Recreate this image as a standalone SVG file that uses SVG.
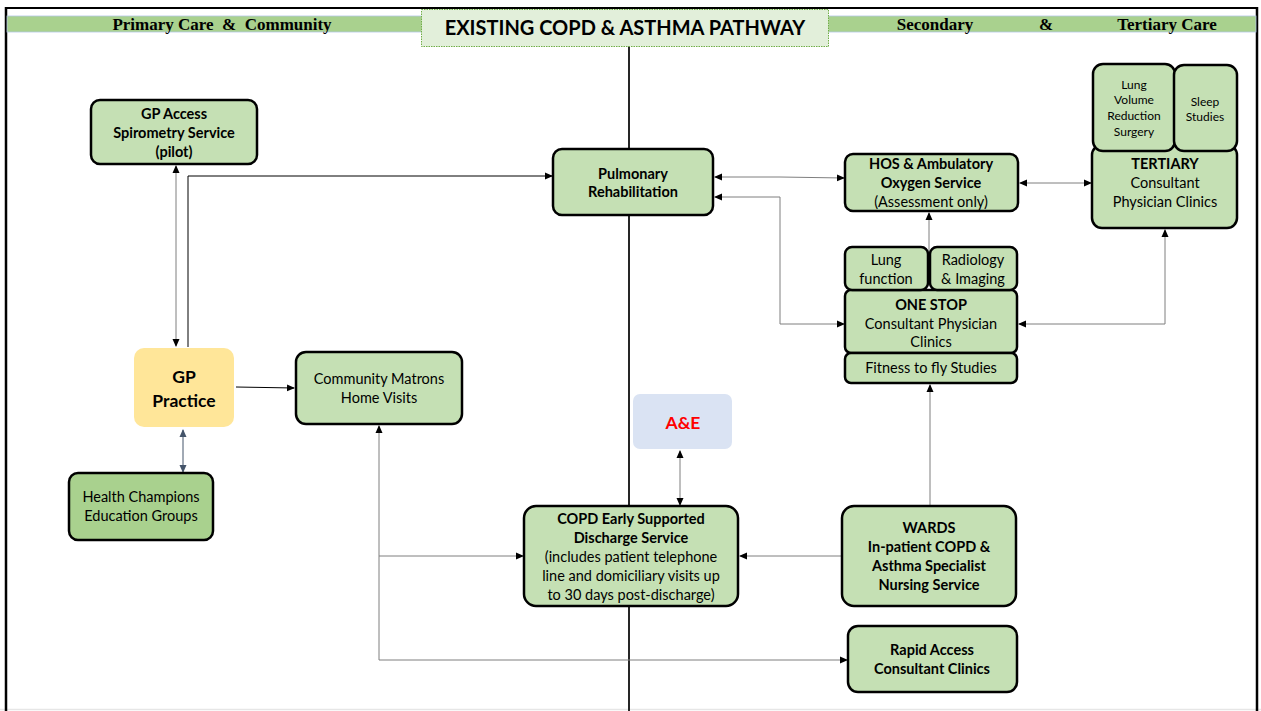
<svg xmlns="http://www.w3.org/2000/svg" width="1261" height="711" viewBox="0 0 1261 711">
<style>
.n{fill:#c5e0b4;stroke:#000;stroke-width:2.5}
.t{font-family:Lato,"Liberation Sans",sans-serif;font-size:14.5px;fill:#000;text-anchor:middle}
.b{font-weight:bold}
.s{font-size:12px}
.big{font-size:17.5px}
.hd{font-family:"Liberation Serif",serif;font-size:17px;font-weight:bold;fill:#000}
.c{fill:none;stroke:#7f7f7f;stroke-width:1}
.k{stroke:#000}
</style>
<defs>
<marker id="a" viewBox="0 0 8 8" refX="7" refY="4" markerWidth="8" markerHeight="8" markerUnits="userSpaceOnUse" orient="auto-start-reverse"><path d="M0,0.5 L8,4 L0,7.5 z" fill="#000"/></marker>
<marker id="ab" viewBox="0 0 8 8" refX="7" refY="4" markerWidth="8" markerHeight="8" markerUnits="userSpaceOnUse" orient="auto-start-reverse"><path d="M0,0.5 L8,4 L0,7.5 z" fill="#44546a"/></marker>
</defs>
<rect width="1261" height="711" fill="#fff"/>
<g id="frame">
<line x1="0" y1="709.5" x2="1261" y2="709.5" stroke="#e6e6e6" stroke-width="1.5"/>
<line x1="5" y1="8" x2="1258" y2="8" stroke="#000" stroke-width="2"/>
<line x1="6" y1="7" x2="6" y2="711" stroke="#000" stroke-width="2.5"/>
<line x1="1257" y1="7" x2="1257" y2="711" stroke="#000" stroke-width="2.5"/>
<rect x="7" y="16" width="1249" height="16" fill="#a9d18e" stroke="#b4c7e7" stroke-width="0.8"/>
<text class="hd" x="222" y="30" text-anchor="middle" xml:space="preserve">Primary Care  &amp;  Community</text>
<text class="hd" x="935" y="30" text-anchor="middle">Secondary</text>
<text class="hd" x="1046" y="30" text-anchor="middle">&amp;</text>
<text class="hd" x="1167" y="30" text-anchor="middle">Tertiary Care</text>
<line x1="629" y1="46" x2="629" y2="711" stroke="#262626" stroke-width="2"/>
</g>
<g id="title">
<rect x="421.5" y="9.5" width="407" height="37" fill="#e2efda" stroke="#70ad47" stroke-width="1" stroke-dasharray="1.5 1"/>
<text x="625" y="35" font-family="Lato,'Liberation Sans',sans-serif" font-size="20" font-weight="bold" text-anchor="middle" fill="#000">EXISTING COPD &amp; ASTHMA PATHWAY</text>
</g>
<g id="connectors">
<line class="c" x1="176" y1="166" x2="176" y2="346" marker-start="url(#a)" marker-end="url(#a)"/>
<polyline class="c k" points="188,347 188,176 552,176" marker-end="url(#a)"/>
<line class="c k" x1="236" y1="387" x2="294" y2="388" marker-end="url(#a)"/>
<line x1="183" y1="430" x2="183" y2="472" stroke="#44546a" stroke-width="1" marker-start="url(#ab)" marker-end="url(#ab)"/>
<polyline class="c" points="715,177 780,177 844,178" marker-start="url(#a)" marker-end="url(#a)"/>
<line class="c" x1="1020" y1="183" x2="1091" y2="183" marker-start="url(#a)" marker-end="url(#a)"/>
<polyline class="c" points="715,197 780,197 780,324 844,324" marker-start="url(#a)" marker-end="url(#a)"/>
<polyline class="c" points="1165,230 1165,324 1019,324" marker-start="url(#a)" marker-end="url(#a)"/>
<line class="c" x1="929" y1="213" x2="929" y2="262" marker-start="url(#a)" marker-end="url(#a)"/>
<line class="c" x1="930" y1="505" x2="930" y2="385" marker-end="url(#a)"/>
<line class="c" x1="841" y1="556" x2="740" y2="556" marker-end="url(#a)"/>
<line class="c" x1="680" y1="451" x2="680" y2="505" marker-start="url(#a)" marker-end="url(#a)"/>
<polyline class="c" points="379,426 379,660 847,660" marker-start="url(#a)" marker-end="url(#a)"/>
<line class="c" x1="379" y1="556" x2="523" y2="556" marker-end="url(#a)"/>
</g>
<g id="gp-access">
<rect class="n" x="91" y="100" width="166" height="64" rx="9"/>
<text class="t b" x="174" y="119">GP Access</text>
<text class="t b" x="174" y="138">Spirometry Service</text>
<text class="t b" x="174" y="157">(pilot)</text>
</g>
<g id="pulmonary">
<rect class="n" x="553" y="149" width="160" height="66" rx="9"/>
<text class="t b" x="633" y="179">Pulmonary</text>
<text class="t b" x="633" y="197">Rehabilitation</text>
</g>
<g id="hos">
<rect class="n" x="845" y="154" width="173" height="57" rx="8"/>
<text class="t b" x="931" y="169">HOS &amp; Ambulatory</text>
<text class="t b" x="931" y="188">Oxygen Service</text>
<text class="t" x="931" y="207">(Assessment only)</text>
</g>
<g id="tertiary">
<rect class="n" x="1092" y="145" width="145" height="83" rx="10"/>
<text class="t b" x="1165" y="169">TERTIARY</text>
<text class="t" x="1165" y="188">Consultant</text>
<text class="t" x="1165" y="207">Physician Clinics</text>
</g>
<g id="lvrs">
<rect class="n" x="1093" y="64" width="82" height="87" rx="10"/>
<text class="t s" x="1134" y="89">Lung</text>
<text class="t s" x="1134" y="104">Volume</text>
<text class="t s" x="1134" y="120">Reduction</text>
<text class="t s" x="1134" y="136">Surgery</text>
</g>
<g id="sleep">
<rect class="n" x="1174" y="65" width="63" height="86" rx="10"/>
<text class="t s" x="1205" y="106">Sleep</text>
<text class="t s" x="1205" y="121">Studies</text>
</g>
<g id="one-stop">
<rect class="n" x="845" y="290" width="172" height="63" rx="6"/>
<text class="t b" x="931" y="310">ONE STOP</text>
<text class="t" x="931" y="329">Consultant Physician</text>
<text class="t" x="931" y="347">Clinics</text>
</g>
<g id="lung-function">
<rect class="n" x="845" y="247" width="83" height="43" rx="7"/>
<text class="t" x="886" y="265">Lung</text>
<text class="t" x="886" y="284">function</text>
</g>
<g id="radiology">
<rect class="n" x="930" y="247" width="87" height="43" rx="7"/>
<text class="t" x="973" y="265">Radiology</text>
<text class="t" x="973" y="284">&amp; Imaging</text>
</g>
<g id="fitness">
<rect class="n" x="845" y="353" width="172" height="30" rx="6"/>
<text class="t" x="931" y="373">Fitness to fly Studies</text>
</g>
<g id="gp-practice">
<rect x="134" y="348" width="100" height="79" rx="10" fill="#ffe699"/>
<text class="t b big" x="184" y="383">GP</text>
<text class="t b big" x="184" y="407">Practice</text>
</g>
<g id="community-matrons">
<rect class="n" x="296" y="352" width="166" height="72" rx="10"/>
<text class="t" x="379" y="384">Community Matrons</text>
<text class="t" x="379" y="403">Home Visits</text>
</g>
<g id="health-champions">
<rect class="n" x="69" y="473" width="144" height="67" rx="9" style="fill:#a9d18e"/>
<text class="t" x="141" y="502">Health Champions</text>
<text class="t" x="141" y="521">Education Groups</text>
</g>
<g id="ae">
<rect x="633" y="394" width="99" height="55" rx="7" fill="#dae3f3"/>
<text x="683" y="429" font-family="Lato,'Liberation Sans',sans-serif" font-size="17.5" font-weight="bold" text-anchor="middle" fill="#ff0000">A&amp;E</text>
</g>
<g id="copd-esd">
<rect class="n" x="524" y="506" width="214" height="100" rx="12"/>
<text class="t b" x="631" y="524">COPD Early Supported</text>
<text class="t b" x="631" y="543">Discharge Service</text>
<text class="t" x="631" y="562">(includes patient telephone</text>
<text class="t" x="631" y="581">line and domiciliary visits up</text>
<text class="t" x="631" y="600">to 30 days post-discharge)</text>
</g>
<g id="wards">
<rect class="n" x="842" y="506" width="174" height="100" rx="12"/>
<text class="t b" x="929" y="533">WARDS</text>
<text class="t b" x="929" y="552">In-patient COPD &amp;</text>
<text class="t b" x="929" y="571">Asthma Specialist</text>
<text class="t b" x="929" y="590">Nursing Service</text>
</g>
<g id="rapid-access">
<rect class="n" x="848" y="626" width="169" height="66" rx="10"/>
<text class="t b" x="932" y="655">Rapid Access</text>
<text class="t b" x="932" y="674">Consultant Clinics</text>
</g>
</svg>
